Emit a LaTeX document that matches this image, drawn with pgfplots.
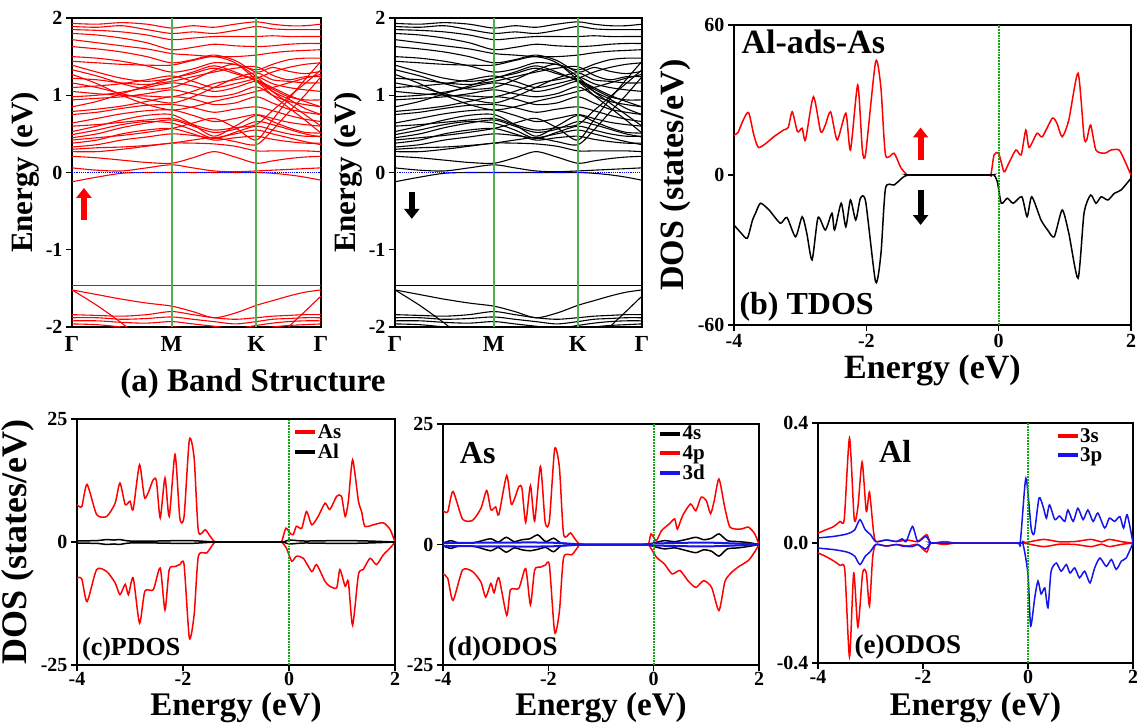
\documentclass[border=0pt]{standalone}
\usepackage{fontspec}
\setmainfont{Liberation Serif}
\usepackage{pgfplots}
\usepackage{pgfplotstable}
\pgfplotsset{compat=1.18}
\usetikzlibrary{arrows.meta}

\definecolor{symgreen}{RGB}{80,175,80}
\definecolor{dotgreen}{RGB}{20,165,20}
\definecolor{dosblue}{RGB}{20,20,235}

\newcommand{\tickfont}{\fontsize{20}{20}\selectfont\bfseries}
\newcommand{\labfont}{\fontsize{31}{31}\selectfont\bfseries}
\newcommand{\legfont}{\fontsize{21}{21}\selectfont\bfseries}

% bands: one row per band, energies (eV) at the k-points of G-M-K-G
\pgfplotstableread{
name k0 k1 k2 k3 k4 k5 k6 k7 k8 k9 k10 k11 k12
x 0 0.25 0.5 0.75 1 1.2125 1.425 1.6375 1.85 2.0125 2.175 2.3375 2.5
b1 -1.46 -1.46 -1.46 -1.46 -1.46 -1.46 -1.46 -1.46 -1.46 -1.46 -1.46 -1.46 -1.46
b2 -1.52 -1.58 -1.64 -1.69 -1.73 -1.80 -1.88 -1.82 -1.72 -1.66 -1.60 -1.55 -1.52
b3 -1.52 -1.72 -1.95 -2.2 -2.3 -2.3 -2.3 -2.3 -2.3 -2.25 -2.0 -1.8 -1.6
b4 -1.84 -1.85 -1.86 -1.84 -1.80 -1.84 -1.88 -1.90 -1.88 -1.86 -1.85 -1.84 -1.84
b5 -1.88 -1.88 -1.90 -1.89 -1.87 -1.90 -1.93 -1.96 -1.93 -1.90 -1.89 -1.88 -1.88
b6 -1.92 -1.92 -1.94 -1.95 -1.93 -1.96 -1.99 -2.02 -1.98 -1.95 -1.93 -1.92 -1.92
b7 -1.96 -1.97 -2.0 -2.03 -2.0 -2.02 -2.05 -2.05 -2.03 -2.0 -1.98 -1.97 -1.96
b8 -0.12 -0.06 -0.01 0 0 0 0 0 0 -0.01 -0.03 -0.06 -0.10
b9 0.06 0.03 0.02 0.06 0.10 0.06 0.02 0.01 0.02 0.03 0.04 0.05 0.06
b10 0.21 0.19 0.16 0.13 0.12 0.19 0.27 0.20 0.12 0.15 0.18 0.20 0.21
b11 0.27 0.27 0.30 0.34 0.38 0.38 0.37 0.34 0.28 0.28 0.28 0.28 0.27
b12 0.38 0.42 0.50 0.55 0.57 0.50 0.42 0.45 0.47 0.43 0.40 0.38 0.38
b13 0.49 0.55 0.62 0.66 0.64 0.55 0.44 0.52 0.60 0.55 0.50 0.47 0.47
b14 0.53 0.60 0.68 0.74 0.75 0.62 0.47 0.60 0.74 0.66 0.58 0.52 0.51
b15 0.64 0.70 0.76 0.80 0.81 0.74 0.66 0.70 0.75 0.70 0.65 0.62 0.60
b16 0.75 0.78 0.83 0.87 0.88 0.84 0.78 0.82 0.85 0.80 0.74 0.69 0.66
b17 0.79 0.82 0.86 0.92 0.98 0.95 0.88 0.90 0.98 0.90 0.82 0.78 0.75
b18 0.94 0.96 0.98 1.02 1.07 1.02 0.98 1.02 1.11 1.00 0.92 0.88 0.85
b19 0.98 1.00 1.04 1.10 1.16 1.12 1.05 1.10 1.18 1.08 0.98 0.94 0.94
b20 1.05 1.02 1.00 0.99 0.98 1.05 1.15 1.20 1.24 1.15 1.10 1.07 1.05
b21 1.16 1.10 1.02 0.95 0.90 0.98 1.10 1.22 1.29 1.20 1.18 1.16 1.16
b22 1.22 1.20 1.16 1.14 1.18 1.24 1.30 1.35 1.37 1.26 1.20 1.24 1.24
b23 1.33 1.25 1.15 1.08 1.10 1.20 1.32 1.40 1.24 1.05 0.90 0.75 0.60
b24 1.39 1.30 1.22 1.18 1.22 1.30 1.38 1.30 1.18 1.00 0.84 0.68 0.51
b25 1.44 1.42 1.40 1.39 1.39 1.45 1.50 1.42 1.20 1.05 0.95 0.83 0.75
b26 1.63 1.60 1.56 1.50 1.42 1.46 1.52 1.45 1.30 1.36 1.31 1.28 1.31
b27 1.72 1.68 1.64 1.60 1.54 1.52 1.50 1.50 1.52 1.55 1.57 1.58 1.59
b28 1.80 1.78 1.74 1.68 1.59 1.62 1.66 1.64 1.63 1.64 1.66 1.67 1.67
b29 1.85 1.84 1.82 1.78 1.72 1.74 1.76 1.76 1.76 1.77 1.76 1.76 1.76
b30 1.89 1.88 1.90 1.85 1.80 1.82 1.80 1.84 1.89 1.86 1.85 1.85 1.85
b31 1.93 1.92 1.94 1.92 1.87 1.90 1.88 1.92 1.95 1.92 1.90 1.90 1.92
b32 0.60 0.62 0.65 0.68 0.70 0.62 0.55 0.58 0.62 0.80 0.98 1.15 1.33
b33 0.42 0.45 0.48 0.52 0.57 0.64 0.70 0.58 0.42 0.68 0.95 1.20 1.44
b34 0.30 0.32 0.33 0.35 0.38 0.42 0.45 0.40 0.36 0.55 0.78 1.00 1.24
b35 1.27 1.15 1.00 0.88 0.81 0.85 0.92 0.98 1.05 1.10 1.16 1.22 1.27
b36 0.85 0.92 1.02 1.12 1.22 1.28 1.35 1.28 1.20 1.10 1.00 0.92 0.85
b37 1.50 1.48 1.44 1.38 1.30 1.34 1.42 1.40 1.33 1.40 1.46 1.48 1.48
b38 0.45 0.50 0.58 0.64 0.68 0.60 0.52 0.56 0.66 0.62 0.56 0.50 0.46
b39 0.33 0.36 0.42 0.46 0.50 0.48 0.45 0.50 0.55 0.50 0.45 0.40 0.36
b40 1.10 1.12 1.15 1.20 1.25 1.18 1.10 1.15 1.22 1.30 1.36 1.40 1.42
}\bandrows
\pgfplotstabletranspose[colnames from=name]{\bands}{\bandrows}

\pgfplotsset{
  panel/.style={
    scale only axis, anchor=south west,
    axis line style={line width=1.6pt},
    tick style={line width=1.2pt, black},
    tick align=outside, major tick length=6pt,
    xtick pos=bottom, ytick pos=left,
    ticklabel style={font=\tickfont},
    label style={font=\labfont},
  },
  band/.style={
    panel, xmin=0, xmax=2.5, ymin=-2, ymax=2,
    xtick={0,1,1.85,2.5}, xticklabels={Γ,M,K,Γ},
    xticklabel style={font=\fontsize{23}{23}\selectfont\bfseries},
    xtick style={draw=none},
    ytick={-2,-1,0,1,2}, yticklabels={-2,-1,0,1,2},
    ylabel={Energy (eV)},
    width=249pt, height=309pt,
  },
  dos/.style={
    panel, xmin=-4, xmax=2,
    xtick={-4,-2,0,2}, xticklabels={-4,-2,0,2},
    xlabel={Energy (eV)},
  },
  dosline/.style={line width=1.5pt, smooth, tension=0.4},
  leg/.style={
    legend style={at={#1}, anchor=north west, draw=none, fill=none,
      font=\legfont, inner sep=0pt, row sep=3pt,
      nodes={inner sep=0.5pt}},
    legend cell align=left,
    legend image code/.code={\draw[##1, line width=4pt, sharp plot] (0pt,0pt) -- (20pt,0pt);},
  },
  % bottom row: x label sits on the lower edge of the picture
  bottomlab/.style={
    xticklabel style={inner sep=1pt},
    xlabel style={font=\fontsize{33}{33}\selectfont\bfseries, inner sep=0pt,
      at={(rel axis cs:0.5,0)}, anchor=south, yshift=-#1},
    ylabel style={font=\fontsize{36}{36}\selectfont\bfseries},
  },
}

\begin{document}
\begin{tikzpicture}
\path[use as bounding box] (0pt,0pt) rectangle (1137pt,724pt);

% (a) spin up bands
\begin{axis}[band, at={(72pt,397pt)}]
\pgfplotsinvokeforeach{1,...,40}{
  \addplot[red, line width=1.1pt, smooth, tension=0.5] table[x=x, y=b#1] {\bands};
}
\addplot[symgreen, line width=2pt] coordinates {(1,-2) (1,2)};
\addplot[symgreen, line width=2pt] coordinates {(1.85,-2) (1.85,2)};
\addplot[blue, densely dotted, line width=1.2pt] coordinates {(0,0) (2.5,0)};
\draw[red, line width=6pt, -{Triangle[length=10pt,width=15pt]}] (axis cs:0.12,-0.62) -- (axis cs:0.12,-0.2);
\end{axis}

% (a) spin down bands
\begin{axis}[band, at={(395pt,397pt)}, width=247pt]
\pgfplotsinvokeforeach{1,...,40}{
  \addplot[black, line width=1.1pt, smooth, tension=0.5] table[x=x, y=b#1] {\bands};
}
\addplot[symgreen, line width=2pt] coordinates {(1,-2) (1,2)};
\addplot[symgreen, line width=2pt] coordinates {(1.85,-2) (1.85,2)};
\addplot[blue, densely dotted, line width=1.2pt] coordinates {(0,0) (2.5,0)};
\draw[black, line width=6pt, -{Triangle[length=10pt,width=15pt]}] (axis cs:0.17,-0.25) -- (axis cs:0.17,-0.6);
\end{axis}

\node[font=\fontsize{33}{33}\selectfont\bfseries] at (253pt,340pt) {(a) Band Structure};

% (b) TDOS
\begin{axis}[dos, at={(734pt,399pt)}, width=397pt, height=300pt,
  label style={font=\fontsize{34}{34}\selectfont\bfseries},
  ymin=-60, ymax=60, ytick={-60,0,60}, yticklabels={-60,0,60},
  ylabel={DOS (states/eV)}]
\addplot[red, dosline] coordinates {
(-4,16) (-3.94,17) (-3.86,22) (-3.78,25) (-3.70,16) (-3.63,11) (-3.5,13) (-3.40,15.3)
(-3.25,18) (-3.18,19) (-3.12,25.3) (-3.04,17.3) (-2.97,18.7) (-2.92,14) (-2.80,31.3)
(-2.69,17.3) (-2.62,20) (-2.54,25.3) (-2.44,14) (-2.31,24.7) (-2.24,10) (-2.13,36)
(-2.06,10) (-2.01,8.7) (-1.86,45.3) (-1.78,35) (-1.71,8) (-1.58,8.7) (-1.48,3) (-1.38,0)
(-1.3,0) (-0.2,0) (-0.12,0) (-0.07,8) (0.0,8.7) (0.08,1.3) (0.14,4) (0.26,10) (0.34,8)
(0.41,18) (0.46,11) (0.58,16.7) (0.66,15.3) (0.81,22.7) (0.88,20.7) (0.96,15.3) (1.06,22)
(1.20,40.7) (1.29,15.3) (1.33,14) (1.39,20) (1.47,10) (1.60,8.7) (1.70,10) (1.82,10)
(1.9,6) (2.0,0)
};
\addplot[black, dosline] coordinates {
(-4,-20) (-3.9,-23) (-3.8,-25.3) (-3.72,-18) (-3.67,-15) (-3.6,-11.3) (-3.47,-14)
(-3.3,-19.3) (-3.2,-17) (-3.07,-24.7) (-2.97,-16.7) (-2.9,-23.3) (-2.82,-34) (-2.73,-17)
(-2.62,-22) (-2.52,-15.3) (-2.48,-22) (-2.38,-11.3) (-2.31,-20.7) (-2.24,-10) (-2.16,-18)
(-2.09,-9.3) (-2.01,-10.7) (-1.86,-42.7) (-1.78,-31.7) (-1.71,-5.3) (-1.58,-4) (-1.45,-1)
(-1.38,0) (-1.3,0) (-0.15,0) (-0.07,0) (-0.02,-2.7) (0.04,-11.3) (0.13,-9.3) (0.22,-11.3)
(0.35,-8.7) (0.43,-16.7) (0.5,-8.7) (0.64,-18) (0.74,-22) (0.84,-24.7) (0.96,-14)
(1.06,-23.3) (1.20,-41.3) (1.29,-15.3) (1.39,-8) (1.47,-11.3) (1.55,-8.7) (1.65,-10)
(1.75,-7.3) (1.85,-6) (2.0,-1.3)
};
\addplot[black, line width=1.5pt] coordinates {(-1.38,0) (-0.1,0)};
\addplot[dotgreen, densely dotted, line width=1.8pt] coordinates {(0,-60) (0,60)};
\draw[red, line width=6pt, -{Triangle[length=10pt,width=15pt]}] (axis cs:-1.18,6) -- (axis cs:-1.18,19);
\draw[black, line width=6pt, -{Triangle[length=10pt,width=15pt]}] (axis cs:-1.18,-6) -- (axis cs:-1.18,-20);
\node[anchor=north west, font=\fontsize{34}{34}\selectfont\bfseries] at (rel axis cs:0.01,0.995) {Al-ads-As};
\node[anchor=south west, font=\fontsize{32}{32}\selectfont\bfseries] at (rel axis cs:0.005,0.0) {(b) TDOS};
\end{axis}

% (c) PDOS
\begin{axis}[dos, bottomlab=58pt, at={(77pt,59pt)}, width=318pt, height=246pt,
  ymin=-25, ymax=25, ytick={-25,0,25}, yticklabels={-25,0,25},
  ylabel={DOS (states/eV)}, leg={(axis cs:0.08,24)}]
\addplot[red, dosline] coordinates {
(-4,7.6) (-3.91,7.2) (-3.81,11.7) (-3.63,5.6) (-3.44,5.2) (-3.28,7.9) (-3.19,12) (-3.09,7.6)
(-3.0,8.3) (-2.94,6.6) (-2.82,15.7) (-2.72,8.9) (-2.56,12.7) (-2.50,12.3) (-2.43,4.9)
(-2.34,13) (-2.26,5.2) (-2.15,17.8) (-2.06,4.9) (-1.98,5.2) (-1.88,20.8) (-1.79,17.1)
(-1.71,2.2) (-1.58,2.5) (-1.49,1.2) (-1.40,0) (-1.3,0) (-0.2,0) (-0.14,0) (-0.06,2.8)
(0.02,1.8) (0.08,1.5) (0.14,3.2) (0.24,2.8) (0.33,6.2) (0.43,3.5) (0.55,5.2) (0.68,7.9)
(0.77,6.6) (0.90,9.3) (0.99,9.3) (1.06,5.2) (1.12,8.3) (1.20,16.7) (1.31,8.3) (1.37,6.2)
(1.43,3.2) (1.59,3.5) (1.78,3.9) (1.91,2.5) (2.0,0)
};
\addlegendentry{As}
\addplot[red, dosline, forget plot] coordinates {
(-4,-7.3) (-3.91,-7.5) (-3.81,-12.1) (-3.63,-5.6) (-3.44,-6) (-3.28,-8.3) (-3.19,-10.7)
(-3.09,-8.6) (-3.03,-10.7) (-2.94,-7.3) (-2.82,-16.5) (-2.72,-10) (-2.56,-9.7) (-2.43,-5.3)
(-2.34,-13.8) (-2.26,-5.6) (-2.15,-5) (-2.06,-4.6) (-1.98,-4.6) (-1.88,-19.5) (-1.79,-14.8)
(-1.71,-2.9) (-1.55,-2.2) (-1.40,0) (-1.3,0) (-0.2,0) (-0.14,0) (-0.05,-1.2) (0.05,-3.9)
(0.14,-2.9) (0.27,-3.3) (0.43,-6) (0.52,-4.6) (0.68,-8) (0.77,-9) (0.90,-9.3) (0.96,-5.6)
(1.06,-9) (1.12,-8) (1.20,-16.9) (1.31,-6.6) (1.40,-5.6) (1.53,-3.3) (1.65,-4.6)
(1.78,-2.6) (1.91,-1.2) (2.0,0)
};
\addplot[black, dosline] coordinates {
(-4,0.2) (-3.6,0.3) (-3.45,0.5) (-3.3,0.4) (-3.2,0.5) (-3.0,0.2) (-2.5,0.2) (-1.9,0.3)
(-1.4,0) (-1.3,0) (-0.2,0) (-0.1,0) (0.0,0.4) (0.3,0.2) (1.0,0.3) (1.5,0.2) (2.0,0)
};
\addlegendentry{Al}
\addplot[black, dosline, forget plot] coordinates {
(-4,-0.2) (-3.6,-0.3) (-3.45,-0.5) (-3.3,-0.4) (-3.2,-0.5) (-3.0,-0.2) (-2.5,-0.2)
(-1.9,-0.3) (-1.4,0) (-1.3,0) (-0.2,0) (-0.1,0) (0.0,-0.4) (0.3,-0.2) (1.0,-0.3)
(1.5,-0.2) (2.0,0)
};
\addplot[dotgreen, densely dotted, line width=1.8pt, forget plot] coordinates {(0,-25) (0,25)};
\node[anchor=south west, font=\fontsize{26}{26}\selectfont\bfseries] at (rel axis cs:0.005,0.0) {(c)PDOS};
\end{axis}

% (d) ODOS As
\begin{axis}[dos, bottomlab=58pt, at={(443pt,59pt)}, width=316pt, height=241pt,
  ymin=-25, ymax=25, ytick={-25,0,25}, yticklabels={-25,0,25},
  leg={(axis cs:0.08,24.7)}]
\addplot[black, dosline] coordinates {
(-4,0.3) (-3.85,0.8) (-3.7,0.3) (-3.4,0.4) (-3.1,1.2) (-2.95,0.5) (-2.8,1.5) (-2.65,0.6)
(-2.5,1.0) (-2.35,1.2) (-2.2,2.0) (-2.05,0.6) (-1.9,1.3) (-1.75,0.3) (-1.4,0) (-1.3,0)
(-0.2,0) (-0.1,0) (0.0,0.3) (0.2,0.8) (0.4,0.6) (0.6,1.0) (0.8,1.5) (0.95,1.0) (1.1,1.3)
(1.24,2.2) (1.4,0.8) (1.6,0.6) (1.8,0.4) (2.0,0)
};
\addlegendentry{4s}
\addplot[black, dosline, forget plot] coordinates {
(-4,-0.3) (-3.85,-0.8) (-3.7,-0.3) (-3.4,-0.4) (-3.1,-1.3) (-2.95,-0.6) (-2.8,-1.6)
(-2.65,-0.7) (-2.5,-1.1) (-2.35,-1.3) (-2.2,-1.0) (-2.05,-0.6) (-1.9,-1.5) (-1.75,-0.3)
(-1.4,0) (-1.3,0) (-0.2,0) (-0.1,0) (0.0,-0.4) (0.2,-0.9) (0.4,-0.7) (0.6,-1.2) (0.8,-1.7)
(0.95,-1.1) (1.1,-1.4) (1.24,-2.4) (1.4,-0.9) (1.6,-0.7) (1.8,-0.4) (2.0,0)
};
\addplot[red, dosline] coordinates {
(-4,7) (-3.91,6.8) (-3.81,11) (-3.63,5.3) (-3.44,5) (-3.28,7.5) (-3.17,11.2) (-3.09,7.2)
(-3.0,7.8) (-2.94,6.2) (-2.79,14.3) (-2.7,8.3) (-2.56,12) (-2.5,11.6) (-2.43,4.6)
(-2.34,12.2) (-2.26,4.9) (-2.15,16.2) (-2.06,4.6) (-1.98,4.9) (-1.88,19.8) (-1.79,16)
(-1.71,2.1) (-1.58,2.4) (-1.49,1.1) (-1.40,0) (-1.3,0) (-0.2,0) (-0.1,0) (-0.05,2.2)
(0.05,0.8) (0.15,2.9) (0.3,4.3) (0.4,5.3) (0.45,3.2) (0.55,6) (0.7,8.4) (0.8,7) (0.9,9.8)
(1.0,9.1) (1.08,6.4) (1.15,9.1) (1.24,13.6) (1.35,7.7) (1.45,3.6) (1.65,3.2) (1.8,3.6)
(1.92,2.2) (2.0,0)
};
\addlegendentry{4p}
\addplot[red, dosline, forget plot] coordinates {
(-4,-6.1) (-3.91,-7) (-3.81,-11.6) (-3.63,-5.3) (-3.44,-5.6) (-3.28,-7.8) (-3.19,-10.9)
(-3.09,-8.1) (-3.03,-10) (-2.94,-6.9) (-2.79,-14.7) (-2.72,-9.4) (-2.56,-9.1) (-2.43,-5)
(-2.34,-12.5) (-2.26,-5.3) (-2.15,-4.7) (-2.06,-4.3) (-1.98,-4.3) (-1.88,-18.2)
(-1.79,-13.9) (-1.71,-2.7) (-1.55,-2.1) (-1.40,0) (-1.3,0) (-0.2,0) (-0.1,0) (0.05,-2.6)
(0.2,-4) (0.35,-6.1) (0.5,-5.4) (0.65,-7.5) (0.8,-8.9) (0.95,-7.5) (1.1,-8.9) (1.24,-13.7)
(1.35,-7.8) (1.45,-6.1) (1.6,-4.7) (1.8,-3.3) (1.92,-1.5) (2.0,0)
};
\addplot[dosblue, dosline, line width=2pt] coordinates {
(-4,0.3) (-3,0.4) (-2,0.4) (-1.5,0.1) (-1.4,0) (-1.3,0) (-0.2,0) (-0.1,0) (0,0.2) (1,0.4) (2,0)
};
\addlegendentry{3d}
\addplot[dosblue, dosline, line width=2pt, forget plot] coordinates {
(-4,-0.3) (-3,-0.4) (-2,-0.4) (-1.5,-0.1) (-1.4,0) (-1.3,0) (-0.2,0) (-0.1,0) (0,-0.2) (1,-0.4) (2,0)
};
\addplot[dotgreen, densely dotted, line width=1.8pt, forget plot] coordinates {(0,-25) (0,25)};
\node[anchor=center, font=\fontsize{32}{32}\selectfont\bfseries] at (rel axis cs:0.11,0.88) {As};
\node[anchor=south west, font=\fontsize{27}{27}\selectfont\bfseries] at (rel axis cs:0.005,0.0) {(d)ODOS};
\end{axis}

% (e) ODOS Al
\begin{axis}[dos, bottomlab=60pt, at={(818pt,61pt)}, width=315pt, height=240pt,
  ymin=-0.4, ymax=0.4, ytick={-0.4,0,0.4}, yticklabels={-0.4,0.0,0.4},
  leg={(axis cs:0.52,0.385)}]
\addplot[red, dosline] coordinates {
(-4,0.033) (-3.85,0.044) (-3.7,0.055) (-3.58,0.072) (-3.5,0.08) (-3.40,0.35) (-3.31,0.08)
(-3.24,0.12) (-3.16,0.27) (-3.08,0.105) (-3.02,0.17) (-2.95,0.05) (-2.9,0.005) (-2.7,0.01)
(-2.5,0.005) (-2.3,0.01) (-2.1,0.005) (-1.93,0.028) (-1.85,0) (-1.6,0.005) (-1.4,0)
(-1.3,0) (-0.2,0) (-0.1,0) (0.0,0.003) (0.3,0.012) (0.6,0.004) (0.9,0.005) (1.2,0.012)
(1.4,0.004) (1.55,0.012) (1.8,0.004) (2.0,0)
};
\addlegendentry{3s}
\addplot[red, dosline, forget plot] coordinates {
(-4,-0.033) (-3.85,-0.045) (-3.7,-0.06) (-3.58,-0.075) (-3.49,-0.09) (-3.40,-0.38)
(-3.32,-0.1) (-3.24,-0.28) (-3.15,-0.1) (-3.08,-0.1) (-3.02,-0.21) (-2.96,-0.05)
(-2.9,-0.005) (-2.7,-0.01) (-2.5,-0.005) (-2.3,-0.01) (-2.1,-0.005) (-1.93,-0.03)
(-1.85,0) (-1.6,-0.005) (-1.4,0) (-1.3,0) (-0.2,0) (-0.1,0) (0.0,-0.003) (0.3,-0.012)
(0.6,-0.004) (0.9,-0.005) (1.2,-0.012) (1.4,-0.004) (1.55,-0.012) (1.8,-0.004) (2.0,0)
};
\addplot[dosblue, dosline] coordinates {
(-4,0.017) (-3.7,0.022) (-3.5,0.028) (-3.4,0.033) (-3.3,0.044) (-3.2,0.078) (-3.1,0.044)
(-3.0,0.028) (-2.9,0.005) (-2.7,0.01) (-2.5,0.005) (-2.4,0.014) (-2.32,0.005) (-2.2,0.055)
(-2.1,0.005) (-1.95,0.022) (-1.85,0) (-1.75,0) (-0.25,0) (-0.15,0) (-0.04,0.216) (0.06,0.05)
(0.12,0.033) (0.21,0.15) (0.29,0.12) (0.35,0.083) (0.41,0.127) (0.51,0.078) (0.6,0.09)
(0.7,0.072) (0.76,0.11) (0.86,0.072) (0.95,0.116) (1.05,0.078) (1.14,0.11) (1.24,0.072)
(1.33,0.1) (1.46,0.05) (1.55,0.083) (1.65,0.072) (1.75,0.088) (1.82,0.05) (1.89,0.094)
(2.0,0)
};
\addlegendentry{3p}
\addplot[dosblue, dosline, forget plot] coordinates {
(-4,-0.017) (-3.7,-0.022) (-3.5,-0.028) (-3.4,-0.033) (-3.3,-0.044) (-3.2,-0.072)
(-3.1,-0.044) (-3.0,-0.028) (-2.9,-0.005) (-2.7,-0.01) (-2.5,-0.005) (-2.4,-0.01)
(-2.2,-0.012) (-2.1,-0.005) (-1.95,-0.02) (-1.85,0) (-1.75,0) (-0.2,0) (-0.1,0) (0.0,-0.105)
(0.05,-0.277) (0.13,-0.18) (0.19,-0.127) (0.25,-0.17) (0.32,-0.15) (0.38,-0.216)
(0.44,-0.094) (0.54,-0.067) (0.63,-0.094) (0.73,-0.072) (0.8,-0.1) (0.89,-0.083)
(0.98,-0.116) (1.08,-0.094) (1.18,-0.133) (1.27,-0.083) (1.37,-0.05) (1.49,-0.078)
(1.59,-0.055) (1.68,-0.088) (1.78,-0.06) (1.87,-0.05) (2.0,0)
};
\addplot[dotgreen, densely dotted, line width=1.8pt, forget plot] coordinates {(0,-0.4) (0,0.4)};
\node[anchor=center, font=\fontsize{32}{32}\selectfont\bfseries] at (rel axis cs:0.245,0.88) {Al};
\node[anchor=south west, font=\fontsize{27}{27}\selectfont\bfseries] at (rel axis cs:0.105,0.0) {(e)ODOS};
\end{axis}
\end{tikzpicture}
\end{document}
